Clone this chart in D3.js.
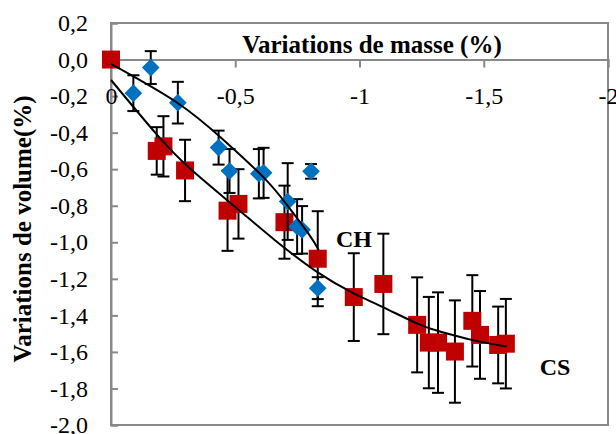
<!DOCTYPE html>
<html>
<head>
<meta charset="utf-8">
<script src="https://cdnjs.cloudflare.com/ajax/libs/d3/7.8.5/d3.min.js"></script>
<style>
  body { margin: 0; background: #fff; }
  #chart_root svg { display: block; }
</style>
</head>
<body>
<div id="chart_root"></div>
<script>
// CH series (blue diamonds): mass variation, volume variation, error
const chX   = [-0.09, -0.16, -0.269, -0.433, -0.477, -0.595, -0.614, -0.711, -0.749, -0.769, -0.805, -0.832];
const chY   = [-0.184, -0.044, -0.236, -0.482, -0.61, -0.625, -0.62, -0.777, -0.914, -0.932, -0.612, -1.251];
const chErr = [0.098, 0.09, 0.114, 0.093, 0.12, 0.135, 0.137, 0.21, 0.15, 0.13, 0.04, 0.06];

// CS series (red squares)
const csX   = [0, -0.184, -0.211, -0.298, -0.469, -0.513, -0.698, -0.832, -0.977, -1.096, -1.232, -1.279, -1.316, -1.384, -1.454, -1.485, -1.558, -1.589];
const csY   = [0, -0.5, -0.475, -0.607, -0.827, -0.79, -0.89, -1.09, -1.30, -1.228, -1.452, -1.549, -1.549, -1.598, -1.43, -1.507, -1.562, -1.555];
const csErr = [0, 0.13, 0.165, 0.168, 0.22, 0.19, 0.2, 0.26, 0.24, 0.275, 0.26, 0.25, 0.275, 0.28, 0.25, 0.24, 0.21, 0.245];

// trend curves, points
const chFitX = [0, -0.265, -0.453, -0.614, -0.708, -0.796, -0.836];
const chFitY = [-0.024, -0.235, -0.44, -0.645, -0.795, -0.955, -1.042];
const csFitX = [0, -0.184, -0.319, -0.507, -0.661, -0.832, -0.977, -1.094, -1.233, -1.327, -1.461, -1.592];
const csFitY = [-0.112, -0.41, -0.598, -0.815, -0.99, -1.165, -1.28, -1.355, -1.445, -1.49, -1.537, -1.571];

const xTicks = [0, -0.5, -1, -1.5, -2];
const yTicks = [0.2, 0, -0.2, -0.4, -0.6, -0.8, -1.0, -1.2, -1.4, -1.6, -1.8, -2.0];

const W = 616, H = 434;
const margin = {top: 23, right: 8, bottom: 9, left: 111};
const width = W - margin.left - margin.right;
const height = H - margin.top - margin.bottom;

const serif = "'Liberation Serif', 'Times New Roman', serif";
const axisGrey = "#898989";

const svg = d3.select("#chart_root")
    .append("svg")
    .attr("width", W)
    .attr("height", H)
    .style("background", "#fff");

const g = svg.append("g")
    .attr("transform", "translate(" + margin.left + "," + margin.top + ")");

const x = d3.scaleLinear().domain([0, -2]).range([0, width]);
const y = d3.scaleLinear().domain([0.2, -2.0]).range([0, height]);

const fmt = (d, dec) => d3.format("." + dec + "f")(d).replace(".", ",").replace("−", "-");

// plot border
g.append("rect")
    .attr("x", 0).attr("y", 0)
    .attr("width", width).attr("height", height)
    .attr("fill", "none")
    .attr("stroke", axisGrey)
    .attr("stroke-width", 2);

// y axis (ticks inward)
const yAxis = g.append("g")
    .call(d3.axisLeft(y).tickValues(yTicks).tickSize(-7).tickPadding(23)
        .tickFormat(d => fmt(d, 1)));
yAxis.select(".domain").attr("stroke", axisGrey).attr("stroke-width", 2);
yAxis.selectAll(".tick line").attr("stroke", axisGrey).attr("stroke-width", 2);
yAxis.selectAll("text")
    .attr("font-family", serif)
    .attr("font-size", 24)
    .attr("fill", "#000");

// x axis at y = 0
const xAxis = g.append("g")
    .attr("transform", "translate(0," + y(0) + ")")
    .call(d3.axisBottom(x).tickValues(xTicks).tickSize(8).tickPadding(19)
        .tickFormat(d => d === 0 ? "0" : fmt(d, d % 1 === 0 ? 0 : 1)));
xAxis.select(".domain").attr("stroke", axisGrey).attr("stroke-width", 2);
xAxis.selectAll(".tick line").attr("stroke", axisGrey).attr("stroke-width", 2);
xAxis.selectAll("text")
    .attr("font-family", serif)
    .attr("font-size", 24)
    .attr("fill", "#000");

// titles
svg.append("text")
    .attr("x", 372).attr("y", 53)
    .attr("text-anchor", "middle")
    .attr("font-family", serif)
    .attr("font-weight", "bold")
    .attr("font-size", 25)
    .text("Variations de masse (%)");

svg.append("text")
    .attr("transform", "translate(31,229) rotate(-90)")
    .attr("text-anchor", "middle")
    .attr("font-family", serif)
    .attr("font-weight", "bold")
    .attr("font-size", 25)
    .text("Variations de volume(%)");

const drawSeries = (xs, ys, errs, kind, color) => {
    const data = xs.map((d, i) => ({x: d, y: ys[i], e: errs[i]}));
    const eb = g.append("g").attr("stroke", "#000").attr("stroke-width", 2);
    data.filter(d => d.e > 0).forEach(d => {
        const cx = x(d.x), y1 = y(d.y + d.e), y2 = y(d.y - d.e);
        eb.append("line").attr("x1", cx).attr("x2", cx).attr("y1", y1).attr("y2", y2);
        eb.append("line").attr("x1", cx - 6).attr("x2", cx + 6).attr("y1", y1).attr("y2", y1);
        eb.append("line").attr("x1", cx - 6).attr("x2", cx + 6).attr("y1", y2).attr("y2", y2);
    });
    const sym = kind === "square"
        ? d3.symbol().type(d3.symbolSquare).size(18 * 18)
        : d3.symbol().type(d3.symbolSquare).size(12.5 * 12.5);
    g.append("g")
        .selectAll("path")
        .data(data)
        .enter()
        .append("path")
        .attr("d", sym)
        .attr("transform", d => "translate(" + x(d.x) + "," + y(d.y) + ")" + (kind === "square" ? "" : " rotate(45)"))
        .attr("fill", color);
};

drawSeries(csX, csY, csErr, "square", "#C00000");
drawSeries(chX, chY, chErr, "diamond", "#0070C0");

// trend curves
const line = d3.line().x(d => x(d[0])).y(d => y(d[1])).curve(d3.curveNatural);
g.append("path")
    .datum(csFitX.map((d, i) => [d, csFitY[i]]))
    .attr("d", line)
    .attr("fill", "none").attr("stroke", "#000").attr("stroke-width", 2);
g.append("path")
    .datum(chFitX.map((d, i) => [d, chFitY[i]]))
    .attr("d", line)
    .attr("fill", "none").attr("stroke", "#000").attr("stroke-width", 2);

// series labels
svg.append("text")
    .attr("x", 354).attr("y", 247)
    .attr("text-anchor", "middle")
    .attr("font-family", serif).attr("font-weight", "bold").attr("font-size", 24)
    .text("CH");
svg.append("text")
    .attr("x", 555).attr("y", 375)
    .attr("text-anchor", "middle")
    .attr("font-family", serif).attr("font-weight", "bold").attr("font-size", 24)
    .text("CS");
</script>
</body>
</html>
